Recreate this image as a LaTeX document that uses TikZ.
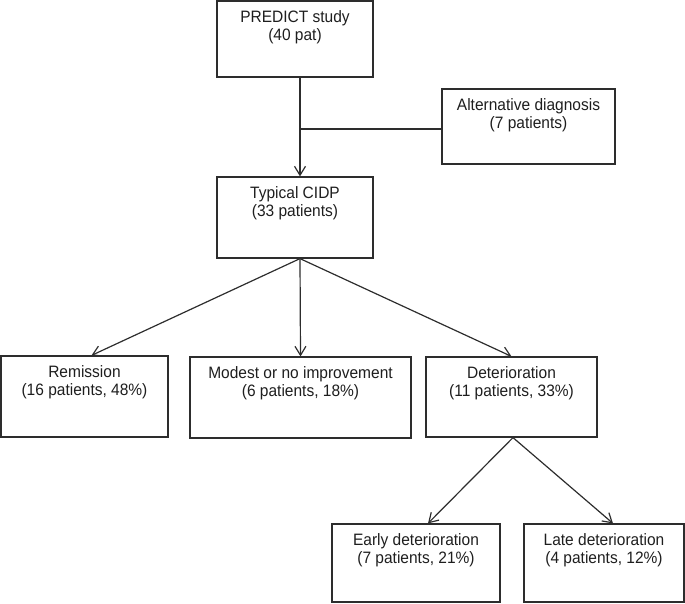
\documentclass[tikz,border=0pt]{standalone}
\usepackage{fontspec}
\setmainfont{Liberation Sans}[FakeStretch=0.94]
\usetikzlibrary{arrows.meta}

\begin{document}
\begin{tikzpicture}[x=1pt, y=-1pt,
  box/.style={draw=linegray, line width=1.2pt, rectangle, inner sep=0pt},
  boxtext/.style={text=textgray, align=center, anchor=north, inner sep=0pt,
    font=\fontsize{16.5}{18}\selectfont},
  flow/.style={draw=linegray, line width=1.2pt, -{Straight Barb[length=9pt,width=11pt]}}]
% Define colors
\definecolor{linegray}{RGB}{45,45,45}
\definecolor{textgray}{RGB}{30,30,30}

% Picture size
\useasboundingbox (0,0) rectangle (685,603);

% Boxes
\node[box, minimum width=156pt, minimum height=76pt] (predict) at (295,39) {};
\node[box, minimum width=173pt, minimum height=75pt] (alt) at (528.5,126.5) {};
\node[box, minimum width=156pt, minimum height=81pt] (cidp) at (295,217.5) {};
\node[box, minimum width=167pt, minimum height=81pt] (remission) at (84.5,396.5) {};
\node[box, minimum width=221pt, minimum height=81pt] (modest) at (300.5,397.5) {};
\node[box, minimum width=171pt, minimum height=80pt] (deter) at (511.5,397) {};
\node[box, minimum width=168pt, minimum height=78pt] (early) at (416,563) {};
\node[box, minimum width=160pt, minimum height=78pt] (late) at (604,563) {};

% Box texts
\node[boxtext] (predicttext) at ([yshift=-10pt]predict.north) {PREDICT study\\(40 pat)};
\node[boxtext] (alttext) at ([yshift=-10pt]alt.north) {Alternative diagnosis\\(7 patients)};
\node[boxtext] (cidptext) at ([yshift=-10pt]cidp.north) {Typical CIDP\\(33 patients)};
\node[boxtext] (remissiontext) at ([yshift=-10pt]remission.north) {Remission\\(16 patients, 48\%)};
\node[boxtext] (modesttext) at ([yshift=-10pt]modest.north) {Modest or no improvement\\(6 patients, 18\%)};
\node[boxtext] (detertext) at ([yshift=-10pt]deter.north) {Deterioration\\(11 patients, 33\%)};
\node[boxtext] (earlytext) at ([yshift=-10pt]early.north) {Early deterioration\\(7 patients, 21\%)};
\node[boxtext] (latetext) at ([yshift=-10pt]late.north) {Late deterioration\\(4 patients, 12\%)};

% Main line with side branch
\coordinate (spine) at (300,129);
\draw[flow] (predict.south -| spine) -- (cidp.north -| spine);
\draw[draw=linegray, line width=1.2pt] (spine) -- (spine -| alt.west);

% Outcome arrows
\draw[flow] (cidp.south -| spine) -- ([xshift=7pt]remission.north);
\draw[flow] (cidp.south -| spine) -- (modest.north);
\draw[flow] (cidp.south -| spine) -- (deter.north);

% Deterioration split
\draw[flow] ([xshift=1.5pt]deter.south) -- ([xshift=12pt]early.north);
\draw[flow] ([xshift=1.5pt]deter.south) -- ([xshift=9pt]late.north);

\end{tikzpicture}
\end{document}
